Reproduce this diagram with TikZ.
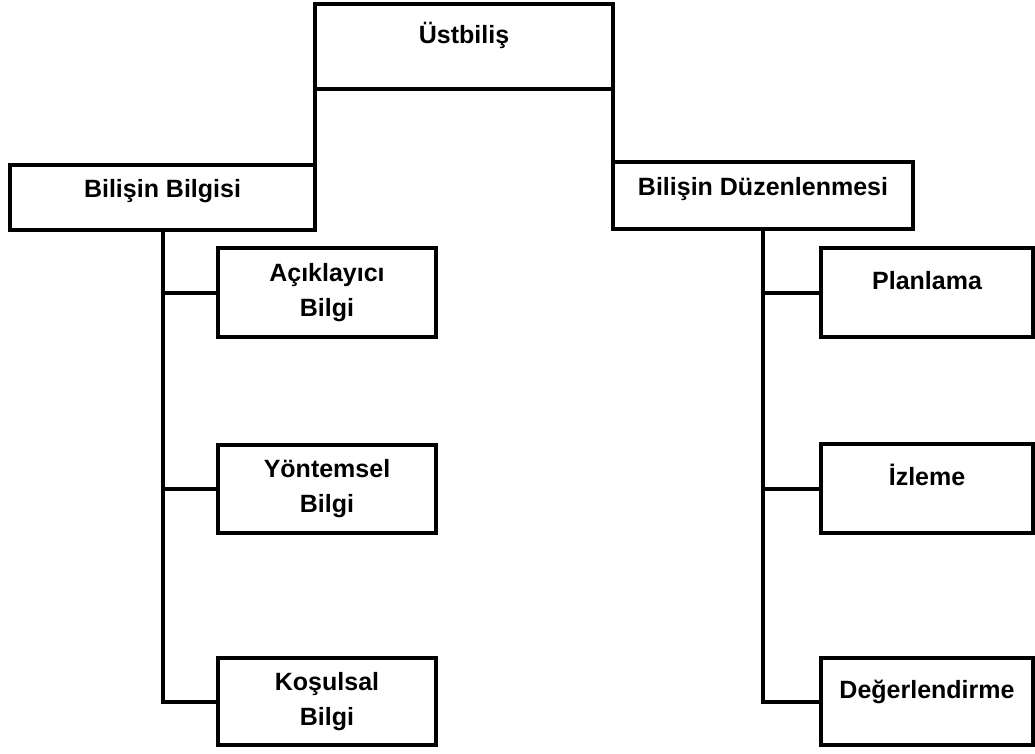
\documentclass[tikz,border=0pt]{standalone}
\usepackage{fontspec}
\setmainfont{Liberation Sans}

\begin{document}
\begin{tikzpicture}
  [x=1pt,y=-1pt,line width=4pt,
   every node/.style={rectangle, draw, line width=4pt, outer sep=0pt, align=center,
     font=\fontsize{25}{35}\selectfont\bfseries},
   toptext/.style={text height=18pt, text depth=24pt},
   midtext/.style={text height=18pt, text depth=19pt}]
  \useasboundingbox (0,0) rectangle (1035,754);

  \node[toptext, minimum width=298pt, minimum height=85pt] (ust) at (464,46.5) {Üstbiliş};

  \node[midtext, minimum width=305pt, minimum height=65pt] (bb) at (162.5,197.5) {Bilişin Bilgisi};
  \node[midtext, minimum width=300pt, minimum height=67pt] (bd) at (763,195.5) {Bilişin Düzenlenmesi};

  \node[minimum width=218pt, minimum height=89pt] (acik)  at (327,292.5) {Açıklayıcı\\Bilgi};
  \node[minimum width=218pt, minimum height=88pt] (yont)  at (327,489)   {Yöntemsel\\Bilgi};
  \node[minimum width=218pt, minimum height=87pt] (kosul) at (327,701.5) {Koşulsal\\Bilgi};

  \node[toptext, minimum width=212pt, minimum height=89pt] (plan)  at (927,292.5) {Planlama};
  \node[toptext, minimum width=212pt, minimum height=89pt] (izle)  at (927,488.5) {İzleme};
  \node[toptext, minimum width=212pt, minimum height=87pt] (deger) at (927,701.5) {Değerlendirme};

  \draw (ust.south west) -- (bb.north east);
  \draw (ust.south east) -- (bd.north west);

  \draw (bb.south) |- (kosul.west);
  \draw (bd.south) |- (deger.west);

  \foreach \from/\to in {bb/acik,bb/yont,bd/plan,bd/izle}
    \draw (\from.south |- \to.west) -- (\to.west);

\end{tikzpicture}
\end{document}
